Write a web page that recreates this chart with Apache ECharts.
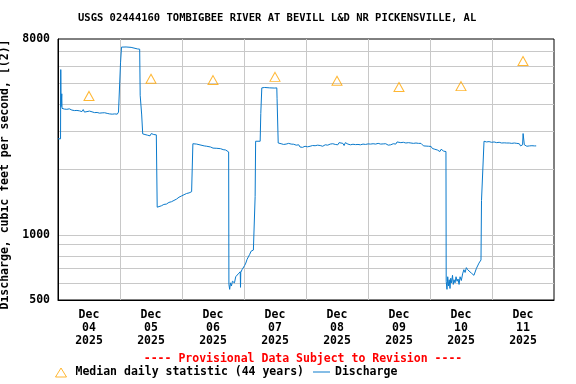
<!DOCTYPE html>
<html><head><meta charset="utf-8">
<script src="https://cdn.jsdelivr.net/npm/echarts@6/dist/echarts.min.js"></script>
<style>html,body{margin:0;padding:0;background:#fff}#c{width:576px;height:384px}</style>
</head><body><div id="c"></div>
<script>
const titleText = 'USGS 02444160 TOMBIGBEE RIVER AT BEVILL L&D NR PICKENSVILLE, AL';
const yAxisName = 'Discharge, cubic feet per second, [(2)]';
const footerText = '---- Provisional Data Subject to Revision ----';
const medianName = 'Median daily statistic (44 years)';
const dischargeName = 'Discharge';

// x in hours since Dec 04 2025 00:00
const dayLabels = ['Dec\n04\n2025','Dec\n05\n2025','Dec\n06\n2025','Dec\n07\n2025','Dec\n08\n2025','Dec\n09\n2025','Dec\n10\n2025','Dec\n11\n2025'];
const dayLabelHours = [12, 36, 60, 84, 108, 132, 156, 180];
const midnightHours = [24, 48, 72, 96, 120, 144, 168];
const yLabelValues = [500, 1000, 8000];
const yGridValues = [600, 700, 800, 900, 1000, 2000, 3000, 4000, 5000, 6000, 7000];

const medianHours = [12, 36, 60, 84, 108, 132, 156, 180];
const medianCfs = [4370, 5240, 5170, 5350, 5130, 4800, 4850, 6330];

const dischargeHours = [
0,0.98,1.07,1.17,1.37,1.46,1.56,2.44,2.93,3.42,4.39,5.37,6.34,7.32,8.29,9.27,9.76,10.25,10.73,11.22,12.20,13.17,14.15,15.13,16.10,16.59,17.08,18.05,19.03,20.00,20.49,20.98,21.47,21.96,22.93,23.42,24.00,
24.20,24.40,24.59,26.35,28.30,28.59,30.74,31.62,31.81,32.30,32.40,32.69,32.79,33.67,34.15,34.64,35.13,35.62,36.10,36.59,37.08,37.57,38.06,38.35,
38.40,38.64,39.03,40.01,40.98,41.96,42.94,43.91,44.89,45.86,46.35,46.84,47.33,47.81,48.30,48.79,49.28,49.77,50.74,51.72,52.11,
52.21,53.67,54.16,56.60,57.57,58.06,59.04,60.01,61.48,62.94,63.92,64.89,65.38,66.06,
66.16,66.45,66.75,67.14,67.53,67.92,68.31,68.80,69.28,69.77,70.26,70.55,70.65,70.75,71.23,71.72,72.21,72.70,73.19,73.67,74.16,74.75,75.63,76.21,
76.31,76.46,76.50,78.26,78.50,78.85,78.89,80.02,81.97,83.92,84.70,84.80,85.19,
85.24,85.87,86.36,87.33,88.31,89.29,90.26,91.24,92.21,92.70,93.19,93.68,94.17,94.65,95.14,95.63,96.61,97.58,98.56,99.53,100.51,101.48,102.46,103.44,104.41,105.39,106.36,107.34,107.83,108.31,108.80,109.29,110.27,110.75,111.24,112.22,113.19,114.17,115.15,116.12,117.10,118.07,119.05,120.02,121.00,121.98,122.95,123.93,124.90,125.88,126.86,127.83,128.32,128.81,129.29,129.78,130.27,130.76,131.25,131.73,132.71,133.20,133.69,134.66,135.64,136.61,137.59,138.57,139.54,140.52,141.49,142.47,143.44,143.93,144.42,144.91,145.40,145.88,146.37,146.86,147.35,147.83,148.32,148.81,149.30,149.79,150.18,
150.27,150.57,150.86,151.15,151.45,151.74,152.03,152.32,152.71,153.01,153.30,153.69,154.08,154.47,154.86,155.25,155.64,156.13,156.62,157.11,157.59,158.08,158.57,159.06,160.03,161.01,161.50,161.98,162.96,163.74,
163.84,163.94,164.03,164.91,165.89,166.86,167.84,168.81,169.79,170.77,171.74,172.72,173.69,174.67,175.65,176.62,177.11,177.60,178.09,178.57,179.06,179.55,179.84,179.94,180.04,180.52,181.50,181.98,182.48,183.45,184.43,185.11
];
const dischargeCfs = [
2770,2770,5780,3900,3820,4470,3830,3800,3850,3790,3810,3760,3740,3745,3730,3700,3780,3680,3740,3700,3720,3690,3660,3665,3640,3690,3650,3655,3630,3610,3570,3600,3560,3610,3600,3680,3690,
6210,6220,7340,7350,7320,7230,7200,7180,4400,4400,3570,3560,2920,2900,2950,2880,2910,2860,2930,2890,2900,2840,2890,2880,
1340,1320,1350,1360,1380,1385,1410,1420,1440,1460,1440,1490,1470,1510,1490,1530,1520,1550,1560,1580,1590,
2630,2620,2575,2570,2560,2580,2540,2510,2505,2495,2470,2460,2410,2410,
590,560,600,580,610,620,600,640,650,660,670,675,572,670,690,700,720,740,770,790,810,840,850,855,
1500,1510,2700,2700,3620,3630,4760,4780,4760,4750,4760,4240,4240,
2650,2620,2630,2610,2620,2640,2620,2615,2590,2560,2600,2540,2580,2530,2570,2560,2545,2560,2580,2575,2590,2580,2560,2600,2590,2620,2630,2610,2650,2600,2660,2610,2640,2580,2660,2620,2600,2615,2605,2610,2600,2620,2610,2625,2620,2630,2620,2640,2620,2625,2630,2590,2620,2600,2640,2630,2670,2620,2680,2640,2660,2610,2670,2650,2660,2650,2640,2650,2640,2640,2570,2565,2560,2530,2555,2500,2540,2480,2520,2460,2500,2420,2480,2440,2430,2420,2420,
610,560,640,580,620,565,630,600,650,590,620,600,640,610,625,590,640,615,660,690,670,705,690,700,665,650,655,700,740,765,770,
1440,1450,2700,2680,2690,2670,2680,2660,2670,2650,2655,2650,2650,2640,2650,2610,2640,2590,2630,2570,2620,2600,2640,2930,2600,2560,2600,2570,2575,2570,2570,2570
];

const FONT = '"DejaVu Sans Mono", monospace';
const FS = 11.5;
const blue = '#0a7acc';
const orange = '#ffa500';
const gridGray = '#c8c8c8';

const chart = echarts.init(document.getElementById('c'), null, {renderer: 'canvas'});
chart.setOption({
  animation: false,
  backgroundColor: '#fff',
  textStyle: {fontFamily: FONT},
  graphic: [
    {type: 'text', left: 78, top: 13, style: {text: titleText, font: 'bold 10.5px ' + FONT, fill: '#000'}},
    {type: 'text', x: 303, y: 359, style: {text: footerText, font: 'bold ' + FS + 'px ' + FONT, fill: '#ff0000', align: 'center', verticalAlign: 'middle'}}
  ],
  grid: {left: 58, right: 22, top: 39, bottom: 84, outerBoundsMode: 'none', containLabel: false,
    show: true, borderColor: '#000', borderWidth: 1, backgroundColor: 'transparent'},
  legend: [
    {data: [{name: medianName, icon: 'triangle', itemStyle: {color: 'rgba(0,0,0,0)', borderColor: orange, borderWidth: 1}}],
     left: 55, top: 366.5, itemWidth: 11, itemHeight: 9, padding: 0,
     textStyle: {fontFamily: FONT, fontWeight: 'bold', fontSize: FS, color: '#000', padding: [0,0,0,4]}},
    {data: [{name: dischargeName, icon: 'rect', itemStyle: {color: blue, borderWidth: 0}}],
     left: 313, top: 366, itemWidth: 17, itemHeight: 1, padding: 0,
     textStyle: {fontFamily: FONT, fontWeight: 'bold', fontSize: FS, color: '#000'}}
  ],
  xAxis: {
    type: 'value', min: 0, max: 192,
    axisLine: {show: true, onZero: false, lineStyle: {color: '#000', width: 1}},
    axisTick: {show: false, customValues: midnightHours},
    axisLabel: {customValues: dayLabelHours, formatter: v => dayLabels[dayLabelHours.indexOf(v)] || '',
      fontFamily: FONT, fontWeight: 'bold', fontSize: FS, color: '#000', lineHeight: 13, margin: 9},
    splitLine: {show: true, lineStyle: {color: gridGray, width: 1}}
  },
  yAxis: {
    type: 'log', logBase: 10, min: 500, max: 8000,
    name: yAxisName, nameLocation: 'middle', nameGap: 37,
    nameTextStyle: {fontFamily: FONT, fontWeight: 'bold', fontSize: FS, color: '#000', padding: [0, 10, 0, 0]},
    axisLine: {show: true, lineStyle: {color: '#000', width: 1}},
    axisTick: {show: false, customValues: yGridValues},
    axisLabel: {customValues: yLabelValues, formatter: v => String(Math.round(v)),
      fontFamily: FONT, fontWeight: 'bold', fontSize: FS, color: '#000', margin: 8},
    splitLine: {show: true, lineStyle: {color: gridGray, width: 1}}
  },
  series: [
    {name: dischargeName, type: 'line', symbol: 'none', z: 3,
     data: dischargeHours.map((h, i) => [h, dischargeCfs[i]]),
     lineStyle: {color: blue, width: 1}, itemStyle: {color: blue}},
    {name: medianName, type: 'scatter', symbol: 'triangle', symbolSize: [10, 9], z: 4,
     data: medianHours.map((h, i) => [h, medianCfs[i]]),
     itemStyle: {color: 'rgba(0,0,0,0)', borderColor: orange, borderWidth: 1}}
  ]
});
</script></body></html>
